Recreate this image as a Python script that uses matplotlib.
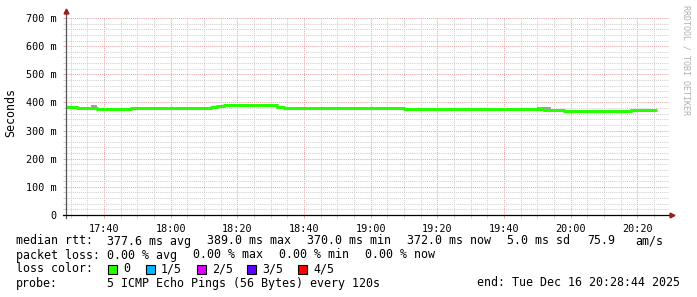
import numpy as np
import matplotlib
matplotlib.use('Agg')
import matplotlib.pyplot as plt
from matplotlib.patches import Rectangle

# median rtt steps (start times, value in ms); last time closes the final step
seg_times = ["17:28", "17:32", "17:38", "17:40", "17:42", "17:48", "18:12", "18:14",
             "18:16", "18:32", "18:34", "19:10", "19:20", "19:24", "19:52", "19:54",
             "19:58", "20:18", "20:22", "20:26"]
median_ms = [385, 381, 378, 375, 378, 380, 385, 387, 390, 384, 379.5, 378, 375, 378,
             374, 372.5, 371, 372, 373.5]

# grey smoke poking out above the median line
smoke_times = ["17:32", "17:34", "17:36", "17:38", "17:40", "18:10", "18:12", "19:50", "19:54"]
smoke_hi = [388, np.nan, 392, 386, np.nan, 388, np.nan, 385]
smoke_lo = [380, np.nan, 378, 376, np.nan, 380, np.nan, 375]

xtick_labels = ["17:40", "18:00", "18:20", "18:40", "19:00", "19:20", "19:40", "20:00", "20:20"]
ytick_vals = [0, 100, 200, 300, 400, 500, 600, 700]

loss_colors = ['#26ff00', '#00b8ff', '#dd00ff', '#5e00ff', '#ff0000']
loss_labels = ['0', '1/5', '2/5', '3/5', '4/5']

stats_rtt = ["377.6 ms avg", "389.0 ms max", "370.0 ms min", "372.0 ms now", "5.0 ms sd", "75.9"]
stats_loss = ["0.00 % avg", "0.00 % max", "0.00 % min", "0.00 % now"]


def to_min(s):
    h, m = s.split(":")
    return int(h) * 60 + int(m)


W, H = 697, 297
FONT = 'DejaVu Sans Mono'
fig = plt.figure(figsize=(W / 100, H / 100), dpi=100)
fig.patch.set_facecolor('white')

ax = fig.add_axes([66 / W, 82 / H, (669 - 66) / W, (215 - 18) / H])
x0, x1 = to_min("17:28") + 0.6, to_min("17:40") + 169.5
ax.set_xlim(x0, x1)
ax.set_ylim(0, 700)

# grid
ax.set_yticks(ytick_vals)
ax.set_yticks([v for v in range(0, 701, 20) if v % 100], minor=True)
ax.set_yticklabels([("%d m" % v) if v else "0" for v in ytick_vals],
                   fontsize=7.3, family=FONT)
xt = [to_min(s) for s in xtick_labels]
ax.set_xticks(xt)
ax.set_xticks([m for m in np.arange(1050, 1230, 5) if m % 20], minor=True)
ax.set_xticklabels(xtick_labels, fontsize=7.3, family=FONT)
ax.grid(which='minor', color='#d0d0d0', linestyle=(0, (1, 1)), lw=0.75)
ax.grid(which='major', color='#eaa6a6', linestyle=(0, (1, 1)), lw=0.75)
ax.tick_params(which='major', length=2.5, width=0.7, color='#eaa6a6', pad=4)
ax.tick_params(which='minor', length=2.5, width=0.7, color='#d0d0d0')
ax.set_axisbelow(True)
for s in ax.spines.values():
    s.set_visible(False)

# axes with arrows
ax.plot([0, 0], [-0.015, 1 + 7 / 197], color='#555555', lw=0.9,
        transform=ax.transAxes, clip_on=False, zorder=5)
ax.plot([0], [1 + 7 / 197], marker='^', ms=3.5, color='#9b1a1a',
        transform=ax.transAxes, clip_on=False, zorder=6)
ax.plot([-0.005, 1 + 3 / 603], [0, 0], color='black', lw=0.9,
        transform=ax.transAxes, clip_on=False, zorder=5)
ax.plot([1 + 3 / 603], [0], marker='>', ms=3.5, color='#9b1a1a',
        transform=ax.transAxes, clip_on=False, zorder=6)

# smoke
st = [to_min(s) for s in smoke_times]
ax.fill_between(st, smoke_lo + [smoke_lo[-1]], smoke_hi + [smoke_hi[-1]],
                step='post', color='#a0a0a0', lw=0, zorder=2)

# median line
t = [to_min(s) for s in seg_times]
ax.plot(t, median_ms + [median_ms[-1]], drawstyle='steps-post',
        color=loss_colors[0], lw=2.2, solid_capstyle='butt', zorder=3)

fig.text(11 / W, 1 - 113 / H, "Seconds", rotation=90, ha='center', va='center',
         fontsize=8.4, family=FONT)
fig.text(686 / W, 1 - 60 / H, "RRDTOOL / TOBI OETIKER", rotation=270, ha='center',
         va='center', fontsize=6, family=FONT, color='#b0b0b0')


def put(x, y, s, **kw):
    fig.text(x / W, 1 - y / H, s, va='center', fontsize=8.4, family=FONT, **kw)


put(16, 241, "median rtt:")
for i, s in enumerate(stats_rtt[:5]):
    put(107 + 100 * i, 241, s)
put(587, 241, stats_rtt[5])
put(635, 241, "am/s")

put(16, 255, "packet loss:")
for i, s in enumerate(stats_loss):
    put(107 + 86 * i, 255, s)

put(16, 269, "loss color:")
sq_x = [108, 146, 197, 247, 298]
for xs, c, lab in zip(sq_x, loss_colors, loss_labels):
    fig.patches.append(Rectangle((xs / W, 1 - 273.5 / H), 9 / W, 9 / H,
                                 facecolor=c, edgecolor='black', lw=0.8,
                                 transform=fig.transFigure, figure=fig))
    put(xs + 15, 269, lab)

put(16, 283, "probe:")
put(107, 283, "5 ICMP Echo Pings (56 Bytes) every 120s")
put(680, 283, "end: Tue Dec 16 20:28:44 2025", ha='right')

fig.savefig("out.png", dpi=100)
